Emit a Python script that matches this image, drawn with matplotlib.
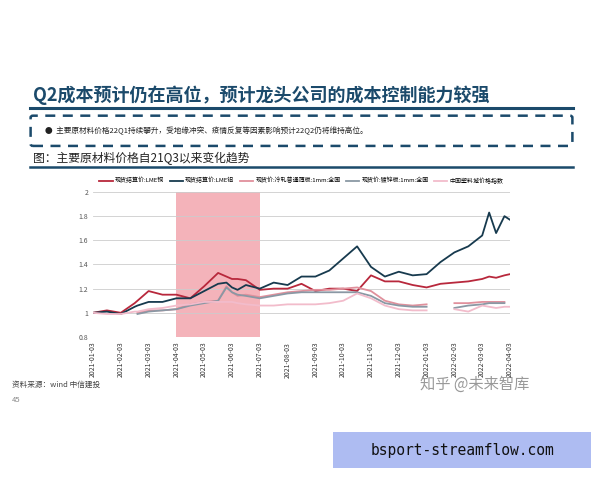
import numpy as np
import matplotlib
matplotlib.use("Agg")
import matplotlib.pyplot as plt
from matplotlib.patches import FancyBboxPatch, Rectangle

plt.rcParams["font.family"] = ["Noto Sans CJK SC", "DejaVu Sans"]

nan = np.nan
# months since 2021-01-03
t = [0, 0.5, 1, 1.5, 1.6, 2, 2.5, 3, 3.5, 4, 4.5, 4.8, 5, 5.2, 5.5, 6, 6.5, 7, 7.5, 8, 8.5,
     9, 9.5, 10, 10.5, 11, 11.5, 12, 12.5, 13, 13.5, 14, 14.25, 14.5, 14.8, 15]
copper = [1.00, 1.02, 1.00, 1.08, 1.10, 1.18, 1.15, 1.15, 1.12, 1.22, 1.33, 1.30, 1.28, 1.28, 1.27, 1.19, 1.20, 1.20, 1.24, 1.18, 1.20,
          1.20, 1.18, 1.31, 1.26, 1.26, 1.23, 1.21, 1.24, 1.25, 1.26, 1.28, 1.30, 1.29, 1.31, 1.32]
alu = [1.00, 1.01, 0.99, 1.05, 1.06, 1.09, 1.09, 1.12, 1.12, 1.18, 1.24, 1.25, 1.21, 1.19, 1.23, 1.20, 1.25, 1.23, 1.30, 1.30, 1.35,
       1.45, 1.55, 1.38, 1.30, 1.34, 1.31, 1.32, 1.42, 1.50, 1.55, 1.64, 1.83, 1.66, 1.80, 1.77]
cold = [nan, nan, nan, nan, 1.00, 1.02, 1.02, 1.03, 1.07, 1.09, 1.10, 1.22, 1.17, 1.14, 1.15, 1.13, 1.15, 1.17, 1.18, 1.19, 1.19,
        1.20, 1.21, 1.18, 1.10, 1.07, 1.06, 1.07, nan, 1.08, 1.08, 1.09, 1.09, 1.09, 1.09, nan]
galv = [nan, nan, nan, nan, 0.99, 1.01, 1.02, 1.03, 1.06, 1.08, 1.10, 1.21, 1.17, 1.15, 1.14, 1.12, 1.14, 1.16, 1.17, 1.17, 1.17,
        1.17, 1.17, 1.14, 1.08, 1.06, 1.05, 1.05, nan, 1.04, 1.06, 1.07, 1.08, 1.08, 1.08, nan]
plastic = [1.00, 0.99, 0.99, 1.01, 1.01, 1.03, 1.04, 1.06, 1.07, 1.09, 1.09, 1.09, 1.09, 1.08, 1.07, 1.06, 1.06, 1.07, 1.07, 1.07, 1.08,
           1.10, 1.16, 1.12, 1.06, 1.03, 1.02, 1.02, nan, 1.03, 1.01, 1.06, 1.05, 1.04, 1.05, 1.05]
names = ["现货结算价:LME铜", "现货结算价:LME铝", "现货价:冷轧普通薄板:1mm:全国", "现货价:镀锌板:1mm:全国", "中国塑料城价格指数"]
colors = ["#b8283c", "#173a4e", "#e0909c", "#8a98a4", "#f2bccb"]
ticks = ["2021-01-03", "2021-02-03", "2021-03-03", "2021-04-03", "2021-05-03", "2021-06-03", "2021-07-03", "2021-08-03",
         "2021-09-03", "2021-10-03", "2021-11-03", "2021-12-03", "2022-01-03", "2022-02-03", "2022-03-03", "2022-04-03"]

fig = plt.figure(figsize=(6, 4.8), dpi=100)
fig.patch.set_facecolor("white")

# slide header
fig.text(0.055, 0.79, "Q2成本预计仍在高位，预计龙头公司的成本控制能力较强", fontsize=13,
         fontweight="bold", color="#1b4a6b")
fig.add_artist(plt.Line2D([0.05, 0.955], [0.775, 0.775], color="#1b4a6b", lw=2.2))
fig.add_artist(FancyBboxPatch((0.055, 0.70), 0.895, 0.055, boxstyle="round,pad=0.004",
                              fill=False, ec="#1b4a6b", lw=1.8, ls=(0, (4, 3))))
fig.text(0.075, 0.727, "●  主要原材料价格22Q1持续攀升，受地缘冲突、疫情反复等因素影响预计22Q2仍将维持高位。",
         fontsize=5.5, color="#222", va="center")
fig.text(0.055, 0.663, "图：主要原材料价格自21Q3以来变化趋势", fontsize=8.5, color="#222")
fig.add_artist(plt.Line2D([0.05, 0.955], [0.652, 0.652], color="#1b4a6b", lw=1.8))

ax = fig.add_axes([0.155, 0.298, 0.695, 0.302])
ax.add_patch(Rectangle((3, 0.8), 3, 1.2, color="#f4b3ba", lw=0, zorder=0))
for y, c, n in zip([copper, alu, cold, galv, plastic], colors, names):
    ax.plot(t, y, color=c, lw=1.3, label=n, zorder=3)
ax.set_xlim(0, 15)
ax.set_ylim(0.8, 2)
ax.set_yticks([0.8, 1, 1.2, 1.4, 1.6, 1.8, 2])
ax.set_yticklabels(["0.8", "1", "1.2", "1.4", "1.6", "1.8", "2"], fontsize=5, color="#555")
ax.set_xticks(range(16))
ax.set_xticklabels(ticks, rotation=90, fontsize=5, color="#333")
ax.grid(axis="y", color="#cccccc", lw=0.6)
for s in ax.spines.values():
    s.set_visible(False)
ax.tick_params(length=0)
ax.legend(loc="lower center", bbox_to_anchor=(0.5, 1.02), ncol=5, fontsize=4.3, frameon=False,
          handlelength=2.2, handletextpad=0.4, columnspacing=0.9)

fig.text(0.02, 0.195, "资料来源：wind 中信建投", fontsize=5.5, color="#444", style="italic")
fig.text(0.02, 0.163, "45", fontsize=5.5, color="#888")
fig.text(0.70, 0.19, "知乎 @未来智库", fontsize=11, color="#555", alpha=0.6)

fig.add_artist(Rectangle((0.555, 0.025), 0.43, 0.075, color="#aebcf2", lw=0))
fig.text(0.77, 0.062, "bsport-streamflow.com", fontsize=10.5, color="#111", ha="center", va="center",
         family="DejaVu Sans Mono")

fig.savefig("out.png", dpi=100)
